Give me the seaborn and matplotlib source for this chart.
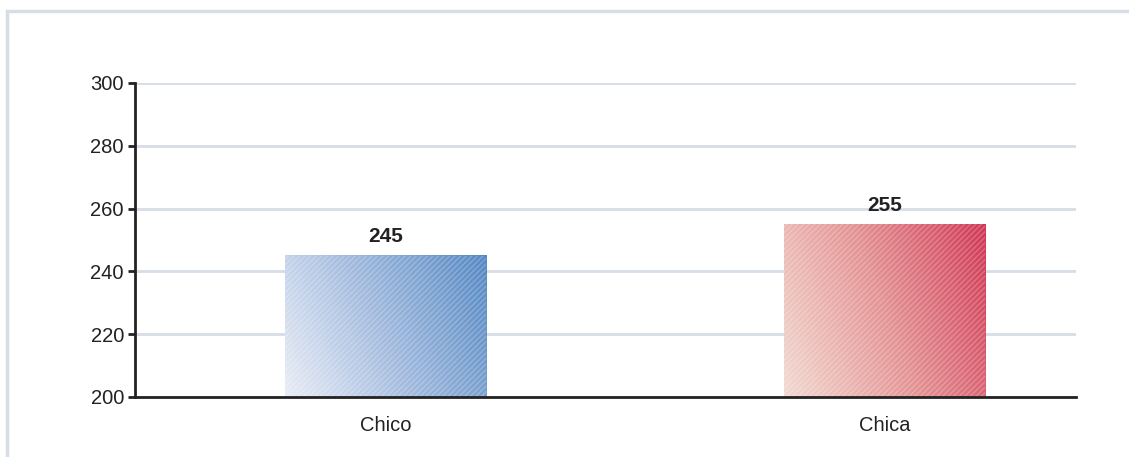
import numpy as np
import matplotlib
matplotlib.use("Agg")
import matplotlib.pyplot as plt
import seaborn as sns
from matplotlib.colors import LinearSegmentedColormap, to_rgba
from matplotlib.patches import Rectangle

categories = ["Chico", "Chica"]
values = [245, 255]
y_ticks = [200, 220, 240, 260, 280, 300]
grad_start = ["#e8ecf6", "#f2d8d0"]
grad_mid = ["#9ab5dc", "#e38e8e"]
grad_end = ["#4c83c0", "#cf2e4d"]

sns.set_theme(style="white")
plt.rcParams['font.family'] = ['Liberation Sans', 'DejaVu Sans']
plt.rcParams['hatch.linewidth'] = 0.9

fig = plt.figure(figsize=(11.29, 4.57), dpi=100)
ax = fig.add_axes([135/1129, 1-397/457, (1076-135)/1129, (397-83)/457])

sns.barplot(x=categories, y=values, ax=ax, width=0.403, color="#ffffff",
            linewidth=0, saturation=1, zorder=2)

ymin, ymax = 200, 300
ax.set_ylim(ymin, ymax)
ax.set_xlim(-0.502, 1.384)
ax.set_yticks(y_ticks)
ax.set_xlabel("")
ax.set_ylabel("")

# gradient fill + hatch overlay per bar (visible part only)
for p, c0, cm, c1, v in zip(ax.patches, grad_start, grad_mid, grad_end, values):
    x0, w = p.get_x(), p.get_width()
    top = p.get_y() + p.get_height()
    y0 = max(p.get_y(), ymin)
    h = top - y0
    n = 200
    u = np.linspace(0, 1, n)[None, :]
    vv = np.linspace(0, 1, n)[:, None]
    t = 0.75 * u + 0.25 * vv
    cmap = LinearSegmentedColormap.from_list("g", [c0, cm, c1])
    ax.imshow(t, cmap=cmap, origin="lower", extent=(x0, x0 + w, y0, top),
              aspect="auto", zorder=2.5, interpolation="bilinear", vmin=0, vmax=1,
              alpha=0.95)
    hp = Rectangle((x0, y0), w, h, facecolor="none", edgecolor=to_rgba("white", 0.25),
                   hatch="//////", linewidth=0, zorder=2.6)
    ax.add_patch(hp)
    ax.text(x0 + w / 2, v + 3.0, f"{v}", ha="center", va="bottom",
            fontsize=15, fontweight="bold", color="#222222", zorder=4)

ax.set_aspect("auto")
ax.set_xlim(-0.502, 1.384)
ax.set_ylim(ymin, ymax)
ax.grid(axis="y", color="#d6dde7", linewidth=2, zorder=0)
ax.set_axisbelow(True)
for s in ["top", "right"]:
    ax.spines[s].set_visible(False)
for s in ["left", "bottom"]:
    ax.spines[s].set_color("#222222")
    ax.spines[s].set_linewidth(2)
    ax.spines[s].set_zorder(5)
ax.tick_params(axis="y", left=True, length=5, width=2, color="#222222",
               labelsize=14.5, labelcolor="#222222", pad=3)
ax.tick_params(axis="x", bottom=False, labelsize=14.5, labelcolor="#222222", pad=8)

# outer frame (partially cropped)
fig.patches.append(Rectangle((7/1129, -0.1), 1.2, (1-11/457) + 0.1,
                             transform=fig.transFigure, fill=False,
                             edgecolor="#d6dde7", linewidth=2.5, zorder=0))

fig.savefig("out.png", dpi=100)
